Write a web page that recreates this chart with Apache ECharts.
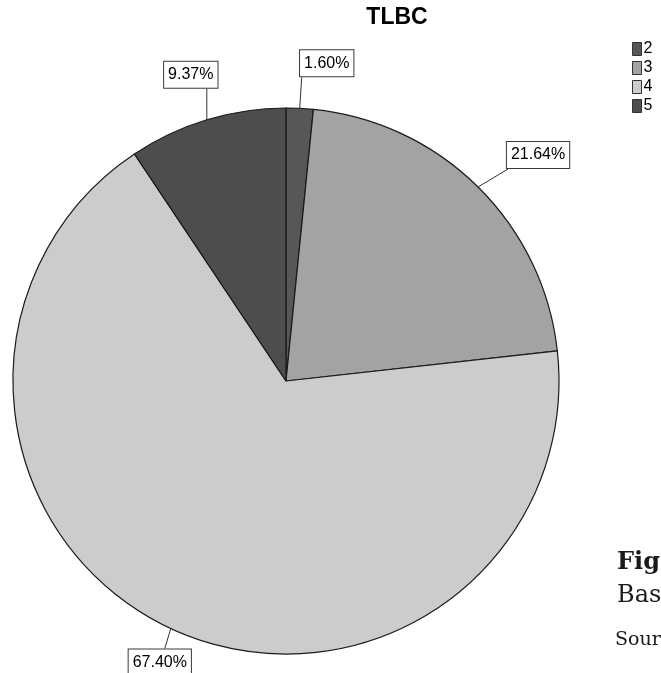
<!DOCTYPE html>
<html>
<head>
<meta charset="utf-8">
<title>TLBC</title>
<script src="https://cdn.jsdelivr.net/npm/echarts@6/dist/echarts.min.js"></script>
<style>
html, body { margin: 0; padding: 0; background: #fff; }
#chart { width: 661px; height: 673px; }
</style>
</head>
<body>
<div id="chart"></div>
<script>
var categories = ['2', '3', '4', '5'];
var percents = [1.60, 21.64, 67.40, 9.37];
var sliceColors = ['#575757', '#a3a3a3', '#cccccc', '#4d4d4d'];

// leader line: from slice edge point, then box centre relative to line end
var leaderVec = [[2, -31], [30, -18], [-6, 20], [0, -31]];
var boxShift = [[25, -14], [30, -14], [-5, 14], [-16, -14]];

var chart = echarts.init(document.getElementById('chart'), null, { renderer: 'canvas' });

var pieData = categories.map(function (c, i) {
    return { name: c, value: percents[i], itemStyle: { color: sliceColors[i] } };
});

chart.setOption({
    animation: false,
    backgroundColor: '#fff',
    title: {
        text: 'TLBC',
        left: 397,
        top: 6,
        padding: 0,
        textAlign: 'center',
        textStyle: { fontFamily: 'Liberation Sans', fontWeight: 'bold', fontSize: 23, color: '#000' }
    },
    legend: {
        data: categories,
        orient: 'vertical',
        left: 632,
        top: 41,
        padding: 0,
        itemWidth: 9,
        itemHeight: 13,
        itemGap: 3,
        icon: 'rect',
        selectedMode: false,
        itemStyle: { borderColor: '#333', borderWidth: 1 },
        textStyle: { fontFamily: 'Liberation Sans', fontSize: 16, color: '#000', padding: [0, 0, 0, -3] }
    },
    series: [{
        type: 'pie',
        center: [286, 381],
        radius: 273,
        startAngle: 90,
        clockwise: true,
        avoidLabelOverlap: false,
        silent: true,
        data: pieData,
        itemStyle: { borderColor: '#1a1a1a', borderWidth: 1.2 },
        label: {
            show: true,
            position: 'outside',
            formatter: function (p) { return p.value.toFixed(2) + '%'; },
            fontFamily: 'Liberation Sans',
            fontSize: 16,
            color: '#000',
            backgroundColor: '#fff',
            borderColor: '#3a3a3a',
            borderWidth: 1,
            padding: [5, 4, 5, 4]
        },
        labelLine: {
            show: true,
            length: 30,
            length2: 0,
            smooth: false,
            lineStyle: { color: '#333', width: 1 }
        },
        labelLayout: function (params) {
            var i = params.dataIndex;
            var p0 = params.labelLinePoints[0];
            var end = [p0[0] + leaderVec[i][0], p0[1] + leaderVec[i][1]];
            return {
                x: end[0] + boxShift[i][0],
                y: end[1] + boxShift[i][1],
                align: 'center',
                verticalAlign: 'middle',
                labelLinePoints: [p0, end, end]
            };
        }
    }],
    graphic: [
        { type: 'text', left: 617, top: 551, style: { text: 'Fig', font: 'bold 24px "DejaVu Serif"', fill: '#1a1a1a' } },
        { type: 'text', left: 617, top: 584, style: { text: 'Bas', font: '24px "DejaVu Serif"', fill: '#1a1a1a' } },
        { type: 'text', left: 615, top: 631, style: { text: 'Sour', font: '19px "DejaVu Serif"', fill: '#1a1a1a' } }
    ]
});
</script>
</body>
</html>
